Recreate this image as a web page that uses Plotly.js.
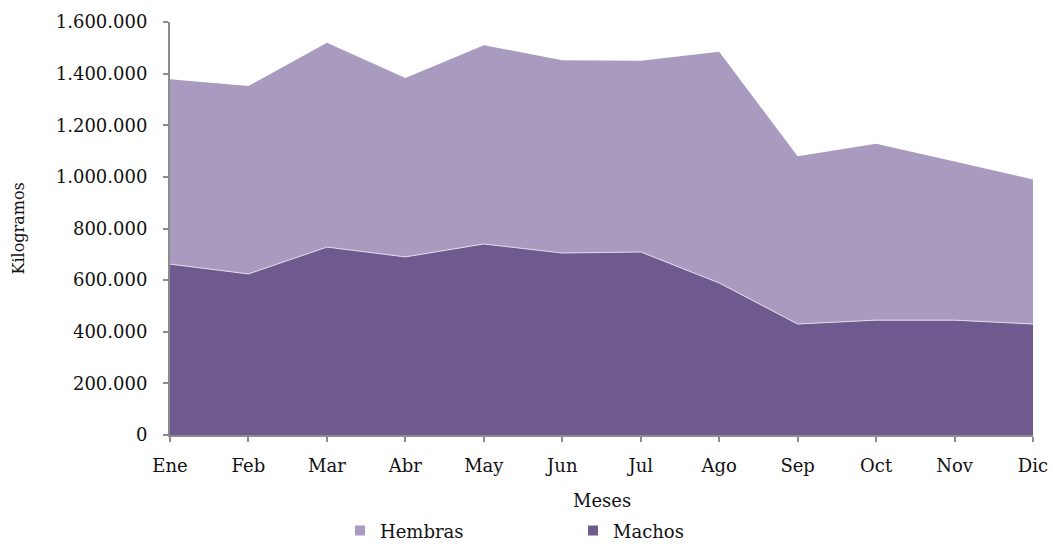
<!DOCTYPE html>
<html><head><meta charset="utf-8">
<script src="https://cdn.plot.ly/plotly-3.0.1.min.js"></script>
<style>html,body{margin:0;padding:0;background:#fff}#chart{width:1053px;height:544px}</style>
</head><body><div id="chart"></div>
<script>
const months = ["Ene","Feb","Mar","Abr","May","Jun","Jul","Ago","Sep","Oct","Nov","Dic"];
const machos = [662000,624000,728000,690000,740000,705000,709000,589000,430000,445000,445000,430000];
const hembras = [716000,728000,792000,693000,770000,747000,741000,896000,650000,683000,615000,560000];
const yTicks = [0,200000,400000,600000,800000,1000000,1200000,1400000,1600000];
const seriesNames = ["Hembras","Machos"];
const seriesColors = ["#A99BBF","#6F5A8F"];
const xTitle = "Meses";
const yTitle = "Kilogramos";

const font = {family:"DejaVu Serif, serif", size:18, color:"#111"};
const data = [
  {x:months, y:machos, name:seriesNames[1], type:"scatter", mode:"lines", stackgroup:"one",
   line:{width:1, color:"#E0DAE8"}, fillcolor:seriesColors[1], hoverinfo:"skip", showlegend:false},
  {x:months, y:hembras, name:seriesNames[0], type:"scatter", mode:"lines", stackgroup:"one",
   line:{width:0, color:seriesColors[0]}, fillcolor:seriesColors[0], hoverinfo:"skip", showlegend:false},
  // legend entries (square swatches)
  {x:[null], y:[null], name:seriesNames[0], type:"scatter", mode:"markers",
   marker:{symbol:"square", size:10, color:seriesColors[0]}, showlegend:true},
  {x:[null], y:[null], name:seriesNames[1], type:"scatter", mode:"markers",
   marker:{symbol:"square", size:10, color:seriesColors[1]}, showlegend:true}
];
const layout = {
  width:1053, height:544,
  margin:{l:170, r:20, t:22, b:109, autoexpand:false},
  paper_bgcolor:"#fff", plot_bgcolor:"#fff",
  separators:",.",
  font:font,
  showlegend:true,
  legend:{orientation:"h", xref:"container", x:340/1053, xanchor:"left", yref:"paper", y:-0.232, yanchor:"middle",
          traceorder:"normal", entrywidth:188, itemwidth:30, font:font},
  xaxis:{type:"category", range:[0,11], showgrid:false, zeroline:false, showline:true, linecolor:"#8c8c8c", linewidth:2,
         ticks:"outside", ticklen:5, tickwidth:2, tickcolor:"#8c8c8c", tickfont:font, ticklabelstandoff:8},
  yaxis:{range:[0,1600000], tickvals:yTicks, tickformat:",d", showgrid:false, zeroline:false, showline:true,
         linecolor:"#8c8c8c", linewidth:2, ticks:"outside", ticklen:5, tickwidth:2, tickcolor:"#8c8c8c", tickfont:font,
         ticklabelstandoff:12},
  annotations:[
    {text:xTitle, xref:"paper", x:0.5, yref:"paper", y:(435-501)/413, xanchor:"center", yanchor:"middle",
     showarrow:false, font:font},
    {text:yTitle, xref:"paper", x:(18-170)/863, yref:"paper", y:0.5, xanchor:"center", yanchor:"middle",
     textangle:-90, showarrow:false, font:{family:"DejaVu Serif, serif", size:16, color:"#111"}}
  ]
};
Plotly.newPlot("chart", data, layout, {staticPlot:true, displayModeBar:false});
</script></body></html>
